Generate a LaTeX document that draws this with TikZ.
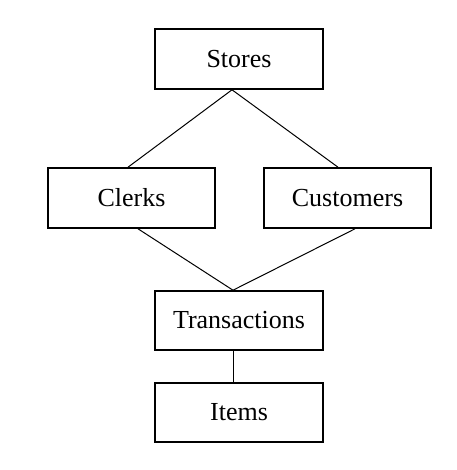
\documentclass[tikz,border=0pt]{standalone}
\usepackage{fontspec}
\setmainfont{Liberation Serif}
\begin{document}
\begin{tikzpicture}[x=1pt,y=-1pt,
  entity/.style={draw=black,line width=1.6pt,fill=white,inner sep=0pt,
    font=\fontsize{26}{30}\selectfont},
  link/.style={draw=black,line width=1pt}]
\useasboundingbox (0,0) rectangle (456,470);
\node[entity,minimum width=168pt,minimum height=60pt] (stores) at (239,59) {Stores};
\node[entity,minimum width=167pt,minimum height=60pt] (clerks) at (131.5,198) {Clerks};
\node[entity,minimum width=167pt,minimum height=60pt] (customers) at (347.5,198) {Customers};
\node[entity,minimum width=168pt,minimum height=59pt] (trans) at (239,320.5) {Transactions};
\node[entity,minimum width=168pt,minimum height=59pt] (items) at (239,412.5) {Items};
\draw[link] ([xshift=-7pt]stores.south) -- (clerks.north west -| 128,0);
\draw[link] ([xshift=-7pt]stores.south) -- (customers.north west -| 338,0);
\draw[link] (clerks.south west -| 138,0) -- ([xshift=-6pt]trans.north);
\draw[link] (customers.south west -| 355,0) -- ([xshift=-6pt]trans.north);
\draw[link] ([xshift=-6pt]trans.south) -- ([xshift=-6pt]items.north);
\end{tikzpicture}
\end{document}
